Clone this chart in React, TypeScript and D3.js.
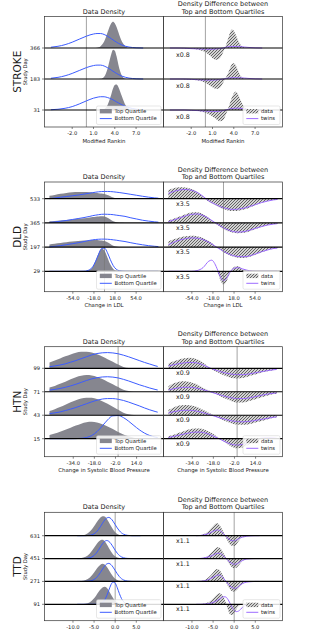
import React from 'react';
import * as d3 from 'd3';

// STROKE (Modified Rankin)
const strokeDays = [366, 183, 31];
const strokeTicks = [-2, 1, 4, 7];
const strokeDomain = [-5.9, 10.86];
const strokeGrid = [-5, -4, -3, -2, -1, 0, 0.5, 1, 1.5, 2, 2.5, 3, 3.25, 3.5, 3.75, 4, 4.25, 4.5, 4.75, 5, 5.5, 6, 7, 8];
const strokeTop = [
  [0, 0, 0, 0, 0, 0, 0, 0, 0.01, 0.06, 0.21, 0.52, 0.68, 0.8, 0.85, 0.8, 0.68, 0.52, 0.35, 0.21, 0.06, 0.01, 0, 0],
  [0, 0, 0, 0, 0, 0, 0, 0, 0, 0.008, 0.076, 0.35, 0.58, 0.8, 0.94, 0.915, 0.73, 0.47, 0.25, 0.107, 0.01, 0, 0, 0],
  [0, 0, 0, 0, 0, 0, 0, 0, 0, 0.003, 0.033, 0.17, 0.32, 0.5, 0.69, 0.81, 0.82, 0.74, 0.6, 0.44, 0.16, 0.04, 0, 0],
];
const strokeBottom = [
  [0.025, 0.055, 0.108, 0.187, 0.285, 0.382, 0.422, 0.451, 0.467, 0.467, 0.436, 0.376, 0.34, 0.3, 0.261, 0.223, 0.186, 0.153, 0.123, 0.097, 0.057, 0.031, 0.007, 0],
  [0.024, 0.053, 0.104, 0.18, 0.274, 0.367, 0.405, 0.433, 0.448, 0.448, 0.419, 0.361, 0.326, 0.288, 0.25, 0.214, 0.179, 0.147, 0.118, 0.093, 0.055, 0.03, 0.007, 0],
  [0.009, 0.024, 0.055, 0.11, 0.195, 0.294, 0.341, 0.382, 0.41, 0.428, 0.427, 0.4, 0.38, 0.356, 0.327, 0.296, 0.263, 0.231, 0.2, 0.169, 0.117, 0.076, 0.026, 0.007],
];
const strokeDiff = [
  [0, 0, -0.005, -0.02, -0.06, -0.14, -0.22, -0.32, -0.38, -0.34, -0.14, 0.16, 0.34, 0.52, 0.6, 0.56, 0.44, 0.3, 0.18, 0.09, 0.02, 0, 0, 0],
  [0, 0, -0.005, -0.015, -0.05, -0.12, -0.19, -0.27, -0.32, -0.29, -0.12, 0.1, 0.22, 0.37, 0.48, 0.51, 0.45, 0.32, 0.19, 0.09, 0.02, 0, 0, 0],
  [0, 0, 0, -0.01, -0.03, -0.09, -0.14, -0.21, -0.29, -0.36, -0.32, -0.08, 0.08, 0.25, 0.42, 0.54, 0.59, 0.55, 0.43, 0.29, 0.1, 0.03, 0, 0],
];
const strokeTwins = [
  [0, 0, -0.005, -0.02, -0.03, -0.04, -0.04, -0.04, -0.03, -0.02, 0, 0.03, 0.04, 0.045, 0.05, 0.05, 0.05, 0.045, 0.045, 0.04, 0.03, 0.02, 0.005, 0],
  [0, 0, 0, -0.01, -0.025, -0.035, -0.035, -0.035, -0.03, -0.02, 0, 0.02, 0.03, 0.035, 0.04, 0.04, 0.04, 0.04, 0.035, 0.035, 0.03, 0.02, 0.005, 0],
  [0, 0, 0, -0.01, -0.02, -0.035, -0.04, -0.045, -0.045, -0.04, -0.02, 0.01, 0.025, 0.04, 0.05, 0.055, 0.06, 0.06, 0.055, 0.05, 0.035, 0.02, 0.005, 0],
];

// DLD (Change in LDL)
const dldDays = [533, 365, 197, 29];
const dldTicks = [-54, -18, 18, 54];
const dldDomain = [-102.4, 100.7];
const dldGrid = [-94, -85, -75, -65, -55, -45, -35, -25, -20, -15, -10, -5, 0, 5, 10, 15, 20, 25, 35, 45, 55, 65, 75, 85, 92];
const dldTop = [
  [0.12, 0.15, 0.2, 0.24, 0.27, 0.28, 0.28, 0.27, 0.26, 0.25, 0.23, 0.21, 0.19, 0.15, 0.1, 0.05, 0.02, 0.005, 0, 0, 0, 0, 0, 0, 0],
  [0.07, 0.08, 0.1, 0.12, 0.14, 0.17, 0.19, 0.22, 0.24, 0.255, 0.265, 0.27, 0.26, 0.21, 0.14, 0.07, 0.025, 0.005, 0, 0, 0, 0, 0, 0, 0],
  [0.11, 0.14, 0.17, 0.2, 0.23, 0.25, 0.27, 0.285, 0.29, 0.29, 0.285, 0.27, 0.25, 0.2, 0.13, 0.06, 0.02, 0.005, 0, 0, 0, 0, 0, 0, 0],
  [0, 0, 0, 0, 0, 0, 0.003, 0.06, 0.19, 0.45, 0.75, 0.93, 0.85, 0.57, 0.28, 0.1, 0.03, 0.006, 0, 0, 0, 0, 0, 0, 0],
];
const dldBottom = [
  [0, 0.03, 0.06, 0.09, 0.12, 0.15, 0.19, 0.23, 0.25, 0.27, 0.285, 0.295, 0.3, 0.3, 0.295, 0.285, 0.27, 0.255, 0.22, 0.18, 0.14, 0.1, 0.065, 0.035, 0.02],
  [0.02, 0.04, 0.07, 0.1, 0.14, 0.18, 0.22, 0.27, 0.3, 0.32, 0.34, 0.355, 0.36, 0.355, 0.35, 0.34, 0.32, 0.305, 0.27, 0.21, 0.16, 0.11, 0.075, 0.045, 0.03],
  [0.01, 0.03, 0.06, 0.1, 0.14, 0.18, 0.23, 0.28, 0.3, 0.315, 0.325, 0.33, 0.33, 0.325, 0.315, 0.3, 0.285, 0.265, 0.23, 0.18, 0.135, 0.095, 0.06, 0.035, 0.02],
  [0, 0, 0, 0, 0, 0, 0.004, 0.07, 0.19, 0.42, 0.71, 0.94, 0.96, 0.77, 0.48, 0.23, 0.087, 0.026, 0.001, 0, 0, 0, 0, 0, 0],
];
const dldDiff = [
  [0.36, 0.43, 0.47, 0.46, 0.4, 0.29, 0.08, -0.13, -0.2, -0.26, -0.32, -0.38, -0.43, -0.47, -0.5, -0.51, -0.51, -0.5, -0.45, -0.36, -0.26, -0.17, -0.1, -0.05, -0.03],
  [0.1, 0.17, 0.26, 0.36, 0.43, 0.44, 0.36, 0.2, 0.1, 0, -0.09, -0.18, -0.25, -0.31, -0.36, -0.4, -0.42, -0.43, -0.41, -0.34, -0.25, -0.17, -0.1, -0.05, -0.03],
  [0.23, 0.32, 0.4, 0.45, 0.47, 0.45, 0.38, 0.25, 0.17, 0.07, -0.03, -0.12, -0.2, -0.27, -0.33, -0.38, -0.42, -0.44, -0.45, -0.4, -0.31, -0.21, -0.13, -0.07, -0.04],
  [0, 0, 0, 0, 0, 0, 0, 0, 0.01, 0.02, -0.06, -0.38, -0.55, -0.42, -0.12, 0.1, 0.2, 0.21, 0.04, 0, 0, 0, 0, 0, 0],
];
const dldTwins = [
  [0.22, 0.3, 0.36, 0.38, 0.35, 0.26, 0.1, -0.09, -0.16, -0.22, -0.28, -0.33, -0.37, -0.4, -0.43, -0.44, -0.44, -0.43, -0.39, -0.32, -0.24, -0.16, -0.1, -0.05, -0.03],
  [0.05, 0.12, 0.2, 0.29, 0.35, 0.37, 0.31, 0.18, 0.1, 0.02, -0.06, -0.13, -0.2, -0.26, -0.31, -0.35, -0.37, -0.38, -0.36, -0.3, -0.22, -0.15, -0.09, -0.05, -0.03],
  [0.1, 0.2, 0.29, 0.35, 0.38, 0.37, 0.31, 0.2, 0.13, 0.05, -0.03, -0.1, -0.17, -0.24, -0.3, -0.34, -0.37, -0.39, -0.4, -0.36, -0.28, -0.19, -0.12, -0.06, -0.04],
  [0, 0, 0, 0, 0, 0.03, 0.15, 0.42, 0.46, 0.32, 0.05, -0.25, -0.39, -0.3, -0.08, 0.08, 0.14, 0.15, 0.08, 0.02, 0, 0, 0, 0, 0],
];

// HTN (Change in Systolic Blood Pressure)
const htnDays = [99, 71, 43, 15];
const htnTicks = [-34, -18, -2, 14];
const htnDomain = [-55.8, 34.4];
const htnGrid = [-52, -48, -44, -40, -36, -32, -28, -24, -20, -16, -12, -8, -4, 0, 4, 8, 12, 16, 20, 24, 28, 30];
const htnTop = [
  [0.25, 0.33, 0.42, 0.51, 0.59, 0.66, 0.7, 0.7, 0.67, 0.6, 0.5, 0.39, 0.28, 0.16, 0.06, 0.015, 0, 0, 0, 0, 0, 0],
  [0.18, 0.25, 0.34, 0.43, 0.53, 0.62, 0.68, 0.71, 0.69, 0.63, 0.54, 0.43, 0.32, 0.2, 0.09, 0.03, 0.005, 0, 0, 0, 0, 0],
  [0.18, 0.26, 0.35, 0.45, 0.55, 0.64, 0.71, 0.75, 0.74, 0.69, 0.6, 0.49, 0.36, 0.23, 0.11, 0.04, 0.01, 0, 0, 0, 0, 0],
  [0.16, 0.22, 0.3, 0.38, 0.47, 0.56, 0.64, 0.7, 0.72, 0.69, 0.62, 0.52, 0.41, 0.29, 0.18, 0.1, 0.04, 0.01, 0, 0, 0, 0],
];
const htnBottom = [
  [0.07, 0.1, 0.14, 0.19, 0.26, 0.33, 0.41, 0.49, 0.57, 0.63, 0.66, 0.67, 0.655, 0.62, 0.56, 0.49, 0.41, 0.33, 0.25, 0.18, 0.11, 0.08],
  [0.07, 0.1, 0.14, 0.19, 0.25, 0.32, 0.4, 0.48, 0.55, 0.6, 0.63, 0.64, 0.625, 0.59, 0.53, 0.46, 0.38, 0.3, 0.23, 0.16, 0.1, 0.075],
  [0.07, 0.1, 0.14, 0.2, 0.26, 0.33, 0.41, 0.49, 0.57, 0.64, 0.69, 0.71, 0.71, 0.68, 0.63, 0.56, 0.48, 0.4, 0.31, 0.23, 0.16, 0.13],
  [0, 0, 0, 0, 0.001, 0.004, 0.015, 0.05, 0.135, 0.3, 0.54, 0.8, 0.975, 0.988, 0.9, 0.744, 0.56, 0.383, 0.238, 0.135, 0.07, 0.048],
];
const htnDiff = [
  [0.21, 0.3, 0.38, 0.43, 0.45, 0.42, 0.32, 0.16, -0.02, -0.14, -0.25, -0.34, -0.41, -0.43, -0.41, -0.36, -0.29, -0.22, -0.16, -0.11, -0.07, -0.05],
  [0.24, 0.36, 0.43, 0.45, 0.42, 0.35, 0.24, 0.12, 0.02, -0.1, -0.21, -0.31, -0.4, -0.46, -0.46, -0.42, -0.35, -0.28, -0.21, -0.15, -0.1, -0.08],
  [0.23, 0.33, 0.41, 0.44, 0.43, 0.38, 0.29, 0.18, 0.06, -0.06, -0.17, -0.27, -0.35, -0.4, -0.41, -0.39, -0.34, -0.28, -0.22, -0.16, -0.11, -0.09],
  [0.11, 0.17, 0.25, 0.33, 0.4, 0.44, 0.43, 0.37, 0.26, 0.12, -0.04, -0.2, -0.34, -0.41, -0.38, -0.28, -0.15, -0.05, 0, 0.01, 0.01, 0.01],
];
const htnTwins = [
  [0.1, 0.15, 0.2, 0.23, 0.25, 0.24, 0.19, 0.1, 0, -0.08, -0.15, -0.21, -0.25, -0.27, -0.27, -0.25, -0.21, -0.17, -0.13, -0.09, -0.06, -0.05],
  [0.08, 0.13, 0.17, 0.19, 0.19, 0.17, 0.12, 0.06, -0.01, -0.08, -0.15, -0.21, -0.26, -0.29, -0.29, -0.27, -0.23, -0.18, -0.13, -0.09, -0.06, -0.05],
  [0.1, 0.15, 0.19, 0.21, 0.21, 0.19, 0.14, 0.08, 0.01, -0.06, -0.13, -0.19, -0.24, -0.27, -0.28, -0.27, -0.24, -0.2, -0.16, -0.12, -0.08, -0.07],
  [0.05, 0.1, 0.15, 0.2, 0.25, 0.28, 0.28, 0.24, 0.16, 0.06, -0.05, -0.16, -0.24, -0.27, -0.24, -0.16, -0.07, 0, 0.03, 0.04, 0.03, 0.02],
];

// TTD
const ttdDays = [631, 451, 271, 91];
const ttdTicks = [-10, -5, 0, 5];
const ttdDomain = [-16.75, 11.45];
const ttdGrid = [-9, -8, -7, -6, -5, -4.5, -4, -3.5, -3, -2.5, -2, -1.5, -1, -0.5, 0, 0.5, 1, 1.5, 2, 3, 4, 5, 6];
const ttdTop = [
  [0.002, 0.013, 0.057, 0.18, 0.41, 0.55, 0.69, 0.8, 0.855, 0.843, 0.746, 0.59, 0.42, 0.27, 0.15, 0.077, 0.035, 0.014, 0.005, 0, 0, 0, 0],
  [0.004, 0.02, 0.078, 0.224, 0.47, 0.606, 0.723, 0.8, 0.818, 0.757, 0.627, 0.464, 0.308, 0.183, 0.097, 0.046, 0.02, 0.007, 0.002, 0, 0, 0, 0],
  [0.002, 0.014, 0.058, 0.175, 0.39, 0.519, 0.639, 0.728, 0.768, 0.743, 0.643, 0.498, 0.345, 0.214, 0.119, 0.059, 0.026, 0.01, 0.003, 0, 0, 0, 0],
  [0, 0.004, 0.023, 0.092, 0.261, 0.386, 0.522, 0.648, 0.737, 0.77, 0.722, 0.597, 0.434, 0.278, 0.156, 0.078, 0.034, 0.013, 0.004, 0, 0, 0, 0],
];
const ttdBottom = [
  [0, 0, 0.003, 0.018, 0.084, 0.155, 0.26, 0.395, 0.545, 0.683, 0.775, 0.8, 0.746, 0.631, 0.485, 0.338, 0.214, 0.122, 0.064, 0.013, 0, 0, 0],
  [0, 0.001, 0.006, 0.035, 0.136, 0.233, 0.362, 0.509, 0.65, 0.752, 0.79, 0.752, 0.65, 0.509, 0.362, 0.233, 0.136, 0.072, 0.035, 0.006, 0.001, 0, 0],
  [0, 0, 0.003, 0.018, 0.083, 0.153, 0.257, 0.39, 0.538, 0.675, 0.765, 0.79, 0.737, 0.623, 0.479, 0.334, 0.211, 0.12, 0.063, 0.013, 0, 0, 0],
  [0, 0, 0, 0, 0, 0.002, 0.007, 0.026, 0.076, 0.185, 0.372, 0.62, 0.855, 0.976, 0.922, 0.722, 0.467, 0.25, 0.111, 0.012, 0.001, 0, 0],
];
const ttdDiff = [
  [0, 0.02, 0.08, 0.22, 0.42, 0.52, 0.54, 0.47, 0.33, 0.14, -0.06, -0.24, -0.38, -0.44, -0.45, -0.38, -0.25, -0.12, -0.05, -0.01, 0, 0, 0],
  [0, 0.01, 0.05, 0.16, 0.33, 0.43, 0.49, 0.48, 0.38, 0.22, 0.05, -0.13, -0.28, -0.38, -0.42, -0.4, -0.31, -0.19, -0.09, -0.02, 0, 0, 0],
  [0, 0.01, 0.06, 0.19, 0.39, 0.5, 0.54, 0.5, 0.37, 0.19, 0, -0.19, -0.34, -0.43, -0.45, -0.41, -0.31, -0.19, -0.1, -0.02, 0, 0, 0],
  [0, 0.005, 0.03, 0.1, 0.25, 0.35, 0.44, 0.48, 0.44, 0.3, 0.08, -0.22, -0.44, -0.47, -0.38, -0.22, -0.09, -0.02, 0.01, 0.01, 0, 0, 0],
];
const ttdTwins = [
  [0, 0.01, 0.04, 0.1, 0.19, 0.23, 0.25, 0.23, 0.17, 0.08, -0.02, -0.11, -0.18, -0.22, -0.22, -0.19, -0.14, -0.09, -0.06, -0.02, -0.005, 0, 0],
  [0, 0.005, 0.03, 0.08, 0.15, 0.2, 0.23, 0.23, 0.19, 0.11, 0.02, -0.08, -0.16, -0.22, -0.25, -0.24, -0.19, -0.13, -0.08, -0.02, -0.005, 0, 0],
  [0, 0.005, 0.03, 0.09, 0.18, 0.23, 0.27, 0.28, 0.23, 0.13, 0.02, -0.1, -0.2, -0.27, -0.3, -0.29, -0.23, -0.15, -0.09, -0.03, -0.01, 0, 0],
  [0, 0, 0.01, 0.03, 0.08, 0.12, 0.17, 0.23, 0.29, 0.33, 0.32, 0.22, 0.05, -0.13, -0.26, -0.32, -0.3, -0.22, -0.13, -0.03, 0, 0, 0],
];

const panels = [
  { name: 'STROKE', xlabel: 'Modified Rankin', factor: 'x0.8', days: strokeDays, ticks: strokeTicks, domain: strokeDomain, grid: strokeGrid, top: strokeTop, bottom: strokeBottom, diff: strokeDiff, twins: strokeTwins },
  { name: 'DLD', xlabel: 'Change in LDL', factor: 'x3.5', days: dldDays, ticks: dldTicks, domain: dldDomain, grid: dldGrid, top: dldTop, bottom: dldBottom, diff: dldDiff, twins: dldTwins },
  { name: 'HTN', xlabel: 'Change in Systolic Blood Pressure', factor: 'x0.9', days: htnDays, ticks: htnTicks, domain: htnDomain, grid: htnGrid, top: htnTop, bottom: htnBottom, diff: htnDiff, twins: htnTwins },
  { name: 'TTD', xlabel: '', factor: 'x1.1', days: ttdDays, ticks: ttdTicks, domain: ttdDomain, grid: ttdGrid, top: ttdTop, bottom: ttdBottom, diff: ttdDiff, twins: ttdTwins },
];

// pixel frame of each block: axes top/bottom and first/last ridge baseline
const frames = [
  { top: 16.5, bottom: 127, firstBase: 48, lastBase: 110 },
  { top: 182, bottom: 291.7, firstBase: 198.7, lastBase: 271.3 },
  { top: 346.7, bottom: 456.7, firstBase: 368.3, lastBase: 438.7 },
  { top: 512.3, bottom: 620.7, firstBase: 535.7, lastBase: 604.3 },
];

const W = 314;
const H = 631;
const LEFT = [44.5, 163.5];
const RIGHT = [163.5, 282.5];
const FONT = "'DejaVu Sans', sans-serif";
const GRAY = '#86868f';
const BLUE = '#3c5cff';
const PURPLE = '#9d6cff';
const INK = '#1a1a1a';

function Legend({ x1, bottom, width, items }) {
  const h = 18.5;
  const x0 = x1 - 2.5 - width;
  const y0 = bottom - 2.5 - h;
  return (
    <g>
      <rect x={x0} y={y0} width={width} height={h} rx={1.5} fill="#fff" fillOpacity={0.85} stroke="#cfcfcf" strokeWidth={0.5} />
      {items.map((it, k) => {
        const cy = y0 + 5.2 + k * 7.4;
        return (
          <g key={it.label}>
            {it.kind === 'patch' && <rect x={x0 + 3.3} y={cy - 2.2} width={12} height={4.4} fill={it.fill} />}
            {it.kind === 'line' && <line x1={x0 + 3.3} x2={x0 + 15.3} y1={cy} y2={cy} stroke={it.color} strokeWidth={1} />}
            <text x={x0 + 18} y={cy} dy="0.35em" fontSize={5.3} fill={INK}>{it.label}</text>
          </g>
        );
      })}
    </g>
  );
}

function Block({ p, f }) {
  const n = p.days.length;
  const xL = d3.scaleLinear().domain(p.domain).range(LEFT);
  const xR = d3.scaleLinear().domain(p.domain).range(RIGHT);
  const y = d3.scaleLinear().domain([0, n - 1]).range([f.lastBase, f.firstBase]);
  const lv = (i) => n - 1 - i;
  const areaFor = (x, l) => d3.area()
    .x((_, j) => x(p.grid[j]))
    .y0(y(l))
    .y1((v) => y(l + v))
    .curve(d3.curveMonotoneX);
  const lineFor = (x, l) => d3.line()
    .x((_, j) => x(p.grid[j]))
    .y((v) => y(l + v))
    .curve(d3.curveMonotoneX);
  const midY = (f.top + f.bottom) / 2;
  const cL = (LEFT[0] + LEFT[1]) / 2;
  const cR = (RIGHT[0] + RIGHT[1]) / 2;

  return (
    <g>
      {/* left: data density */}
      {p.top.map((vals, i) => (
        <path key={'t' + i} d={areaFor(xL, lv(i))(vals)} fill={GRAY} />
      ))}
      <line x1={xL(0)} x2={xL(0)} y1={f.top} y2={f.bottom} stroke="#777" strokeOpacity={0.85} strokeWidth={0.8} />
      {p.bottom.map((vals, i) => (
        <path key={'b' + i} d={lineFor(xL, lv(i))(vals)} fill="none" stroke={BLUE} strokeWidth={1} />
      ))}

      {/* right: density difference */}
      {p.diff.map((vals, i) => (
        <path key={'d' + i} d={areaFor(xR, lv(i))(vals)} fill="url(#hatch)" />
      ))}
      {p.twins.map((vals, i) => (
        <path key={'w' + i} d={lineFor(xR, lv(i))(vals)} fill="none" stroke={PURPLE} strokeWidth={1} />
      ))}
      <line x1={xR(0)} x2={xR(0)} y1={f.top} y2={f.bottom} stroke="#777" strokeOpacity={0.85} strokeWidth={0.8} />

      {/* ridge baselines across both panels */}
      {p.days.map((d, i) => (
        <line key={'base' + d} x1={LEFT[0]} x2={RIGHT[1]} y1={y(lv(i))} y2={y(lv(i))} stroke="#000" strokeWidth={1.2} />
      ))}

      {p.days.map((d, i) => (
        <text key={'f' + d} x={RIGHT[0] + 12.5} y={y(lv(i) - 0.21)} dy="0.35em" fontSize={6.3} fill={INK}>{p.factor}</text>
      ))}

      {/* frames */}
      <rect x={LEFT[0]} y={f.top} width={LEFT[1] - LEFT[0]} height={f.bottom - f.top} fill="none" stroke="#333" strokeWidth={0.7} />
      <rect x={RIGHT[0]} y={f.top} width={RIGHT[1] - RIGHT[0]} height={f.bottom - f.top} fill="none" stroke="#333" strokeWidth={0.7} />

      {/* y ticks: study day */}
      {p.days.map((d, i) => (
        <g key={'yt' + d}>
          <line x1={LEFT[0] - 2.5} x2={LEFT[0]} y1={y(lv(i))} y2={y(lv(i))} stroke="#333" strokeWidth={0.6} />
          <text x={LEFT[0] - 4.5} y={y(lv(i))} dy="0.35em" textAnchor="end" fontSize={5.2} fill={INK}>{d}</text>
        </g>
      ))}

      {/* x ticks */}
      {[xL, xR].map((x, a) => (
        <g key={'xt' + a}>
          {p.ticks.map((t) => (
            <g key={t}>
              <line x1={x(t)} x2={x(t)} y1={f.bottom} y2={f.bottom + 2} stroke="#333" strokeWidth={0.6} />
              <text x={x(t)} y={f.bottom + 6.3} dy="0.35em" textAnchor="middle" fontSize={5.2} fill={INK}>{t.toFixed(1)}</text>
            </g>
          ))}
          {p.xlabel && (
            <text x={a === 0 ? cL : cR} y={f.bottom + 13.8} dy="0.35em" textAnchor="middle" fontSize={5.4} fill={INK}>{p.xlabel}</text>
          )}
        </g>
      ))}

      {/* titles */}
      <text x={cL} y={f.top - 5.2} dy="0.35em" textAnchor="middle" fontSize={6.5} fill={INK}>Data Density</text>
      <text x={cR} y={f.top - 12.5} dy="0.35em" textAnchor="middle" fontSize={6.5} fill={INK}>Density Difference between</text>
      <text x={cR} y={f.top - 5.2} dy="0.35em" textAnchor="middle" fontSize={6.5} fill={INK}>Top and Bottom Quartiles</text>

      {/* side labels */}
      <text transform={`translate(17.5,${midY}) rotate(-90)`} dy="0.35em" textAnchor="middle" fontSize={10.5} fill={INK}>{p.name}</text>
      <text transform={`translate(25,${midY}) rotate(-90)`} dy="0.35em" textAnchor="middle" fontSize={5.2} fill={INK}>Study Day</text>

      <Legend x1={LEFT[1]} bottom={f.bottom} width={64.5} items={[
        { label: 'Top Quartile', kind: 'patch', fill: GRAY },
        { label: 'Bottom Quartile', kind: 'line', color: BLUE },
      ]} />
      <Legend x1={RIGHT[1]} bottom={f.bottom} width={37} items={[
        { label: 'data', kind: 'patch', fill: 'url(#hatch)' },
        { label: 'twins', kind: 'line', color: PURPLE },
      ]} />
    </g>
  );
}

export default function App() {
  return (
    <svg width={W} height={H} fontFamily={FONT} style={{ position: 'absolute', left: 0, top: 0, background: '#fff', display: 'block' }}>
      <defs>
        <pattern id="hatch" patternUnits="userSpaceOnUse" width={3} height={3}>
          <rect width={3} height={3} fill="#d2d2d2" />
          <path d="M-0.75,0.75 L0.75,-0.75 M0,3 L3,0 M2.25,3.75 L3.75,2.25" stroke="#1a1a1a" strokeWidth={0.6} />
        </pattern>
      </defs>
      {panels.map((p, k) => (
        <Block key={p.name} p={p} f={frames[k]} />
      ))}
    </svg>
  );
}
